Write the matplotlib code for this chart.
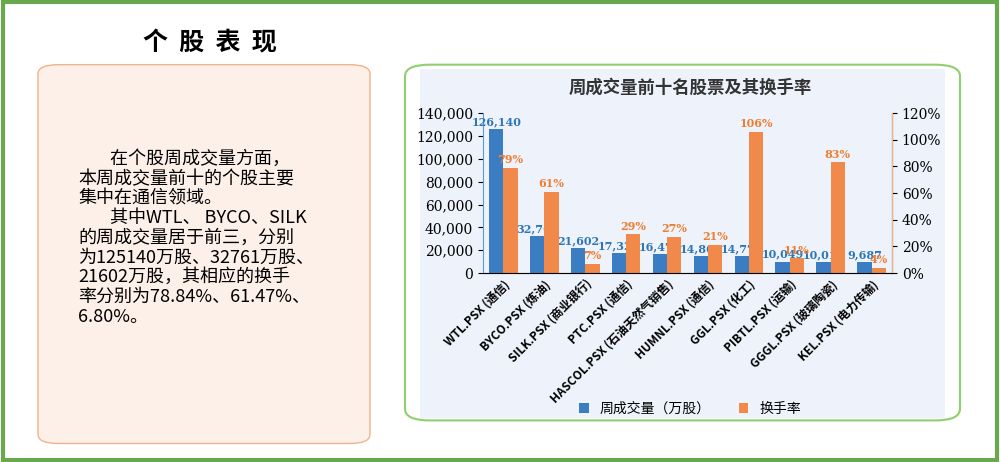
import matplotlib.pyplot as plt
import numpy as np
from matplotlib.patches import FancyBboxPatch, Rectangle

plt.rcParams["font.family"] = ["Noto Sans CJK SC", "DejaVu Sans"]

# ---------------- DATA ----------------
stocks = ["WTL.PSX (通信)", "BYCO.PSX (炼油)", "SILK.PSX (商业银行)", "PTC.PSX (通信)",
          "HASCOL.PSX (石油天然气销售)", "HUMNL.PSX (通信)", "GGL.PSX (化工)",
          "PIBTL.PSX (运输)", "GGGL.PSX (玻璃陶瓷)", "KEL.PSX (电力传输)"]
volume = [126140, 32761, 21602, 17324, 16476, 14863, 14779, 10049, 10015, 9687]
turnover = [79, 61, 7, 29, 27, 21, 106, 11, 83, 4]
y_ticks = [0, 20000, 40000, 60000, 80000, 100000, 120000, 140000]
y2_ticks = [0, 20, 40, 60, 80, 100, 120]
# --------------------------------------

BLUE = "#3b7dc2"
ORANGE = "#f0894a"

fig = plt.figure(figsize=(10, 4.62), dpi=100)

# outer frame
fig.patches.append(Rectangle((0.003, 0.005), 0.994, 0.99, transform=fig.transFigure,
                             fill=False, ec="#6aa84f", lw=3, zorder=-5))

# left text box
fig.patches.append(FancyBboxPatch((0.038, 0.04), 0.332, 0.82, transform=fig.transFigure,
                                  boxstyle="round,pad=0,rounding_size=0.02",
                                  fc="#fdf0e8", ec="#f0b48a", lw=1, zorder=-5))
fig.text(0.21, 0.905, "个  股  表  现", fontsize=18, ha="center", va="center", weight="bold")
body = ("        在个股周成交量方面，\n"
        "本周成交量前十的个股主要\n"
        "集中在通信领域。\n"
        "        其中WTL、 BYCO、SILK\n"
        "的周成交量居于前三，分别\n"
        "为125140万股、32761万股、\n"
        "21602万股，其相应的换手\n"
        "率分别为78.84%、61.47%、\n"
        "6.80%。")
fig.text(0.078, 0.675, body, fontsize=13, ha="left", va="top", linespacing=1.12)

# right chart box
fig.patches.append(FancyBboxPatch((0.405, 0.09), 0.555, 0.77, transform=fig.transFigure,
                                  boxstyle="round,pad=0,rounding_size=0.025",
                                  fc="white", ec="#8fcf6f", lw=1.5, zorder=-5))
fig.patches.append(Rectangle((0.42, 0.095), 0.525, 0.755, transform=fig.transFigure,
                             fc="#eef3fb", ec="none", zorder=-4))
fig.text(0.69, 0.81, "周成交量前十名股票及其换手率", fontsize=12.5, ha="center",
         va="center", weight="bold", color="#333333")

ax = fig.add_axes([0.483, 0.409, 0.409, 0.346])
ax.set_facecolor("none")
ax2 = ax.twinx()
ax.set_zorder(5)
ax2.set_zorder(6)
x = np.arange(len(stocks))
w = 0.35
ax.bar(x - w / 2, volume, w, color=BLUE, label="周成交量（万股）")
ax2.bar(x + w / 2, turnover, w, color=ORANGE, label="换手率")
for xi, v in zip(x, volume):
    ax.text(xi - w / 2, v + 1500, f"{v:,}", ha="center", va="bottom", fontsize=8,
            color="#2e75b6", weight="bold", family="DejaVu Serif")
for xi, t in zip(x, turnover):
    ax2.text(xi + w / 2, t + 2, f"{t}%", ha="center", va="bottom", fontsize=8,
             color="#ed7d31", weight="bold", family="DejaVu Serif")

ax.set_xlim(-0.5, len(stocks) - 0.5)
ax.set_ylim(0, 140000)
ax.set_yticks(y_ticks)
ax.set_yticklabels([f"{v:,}" for v in y_ticks], family="DejaVu Serif", fontsize=10)
ax2.set_ylim(0, 120)
ax2.set_yticks(y2_ticks)
ax2.set_yticklabels([f"{v}%" for v in y2_ticks], family="DejaVu Serif", fontsize=10)
ax.set_xticks(x)
ax.set_xticklabels(stocks, rotation=45, ha="right", rotation_mode="anchor",
                   fontsize=8.5, weight="bold")
for a in (ax, ax2):
    a.spines["top"].set_visible(False)
ax.spines["left"].set_color("#5b9bd5")
ax2.spines["left"].set_visible(False)
ax2.spines["right"].set_color("#f4b183")
ax.spines["bottom"].set_color("#999999")
ax.tick_params(axis="x", length=0)

h1, l1 = ax.get_legend_handles_labels()
h2, l2 = ax2.get_legend_handles_labels()
fig.legend(h1 + h2, l1 + l2, loc="center", bbox_to_anchor=(0.69, 0.115), ncol=2,
           frameon=False, fontsize=10, handlelength=0.7, handleheight=0.7)

fig.savefig("out.png", dpi=100)
